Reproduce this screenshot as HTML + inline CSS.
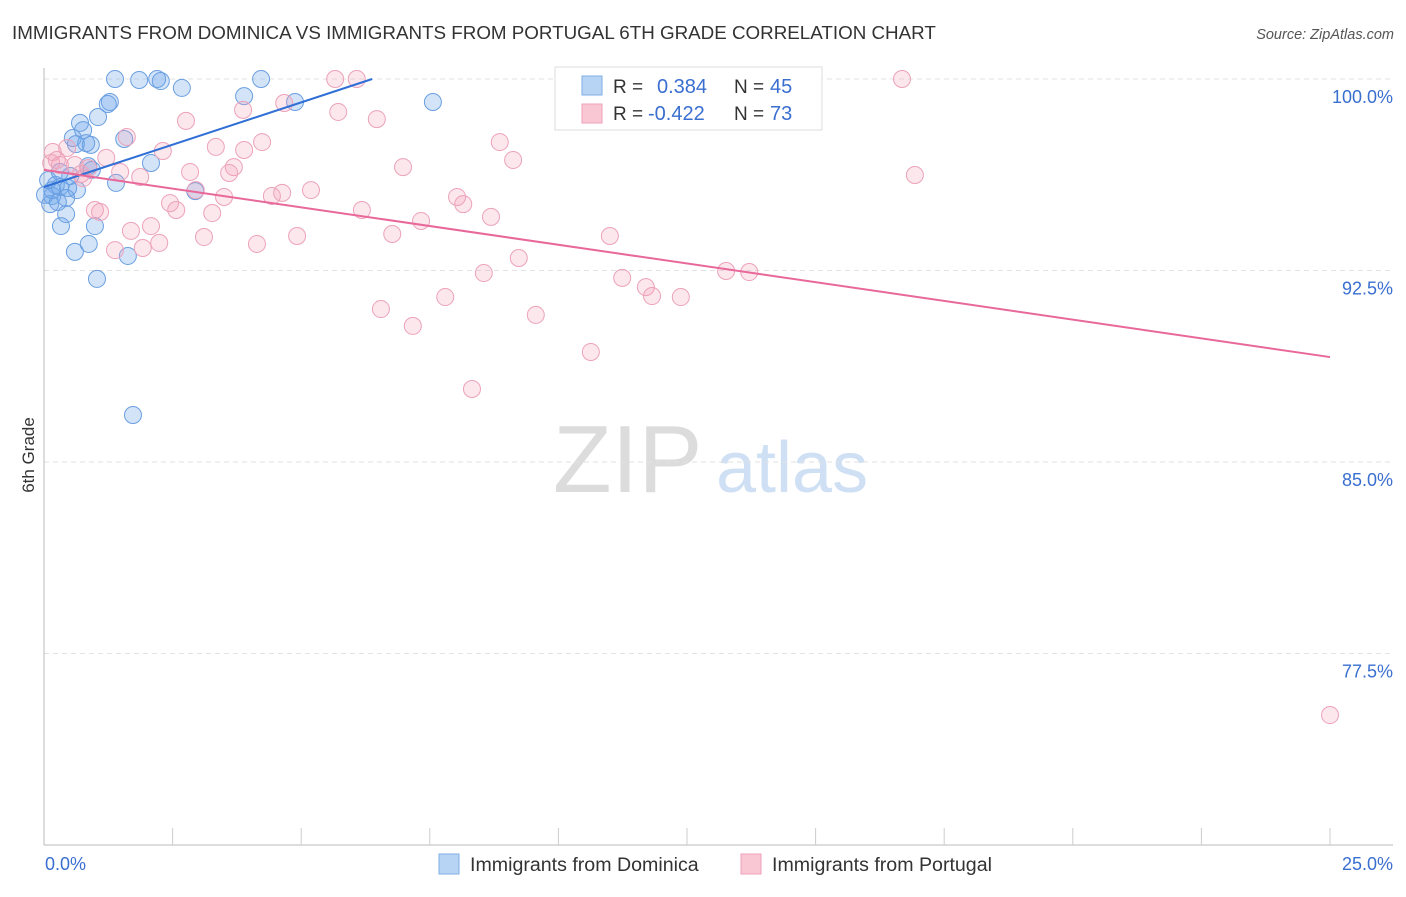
<!DOCTYPE html>
<html><head><meta charset="utf-8"><style>
body{margin:0;background:#fff;font-family:"Liberation Sans",sans-serif}
svg text{font-family:"Liberation Sans",sans-serif}
</style></head><body>
<svg id="c" width="1406" height="892" xmlns="http://www.w3.org/2000/svg">
<text x="12" y="39" font-size="18.8" fill="#333">IMMIGRANTS FROM DOMINICA VS IMMIGRANTS FROM PORTUGAL 6TH GRADE CORRELATION CHART</text>
<text x="1394" y="39" font-size="14.5" fill="#555" font-style="italic" text-anchor="end">Source: ZipAtlas.com</text>
<text x="34" y="455" font-size="17" fill="#333" transform="rotate(-90 34 455)" text-anchor="middle">6th Grade</text>
<g>
<text x="553" y="492" font-size="96" font-family="Liberation Serif,serif" fill="#dcdcdc">ZIP</text>
<text x="716" y="492" font-size="72" fill="#cfe0f4">atlas</text>
</g>
<g id="grid"></g><g id="axes"></g><g id="pts"></g><g id="lines"></g>
<g>
<rect x="555" y="67" width="267" height="63" fill="#fff" stroke="#ddd"/>
<rect x="582" y="76" width="20" height="19" fill="#b8d4f4" stroke="#7eaee6"/>
<rect x="582" y="104" width="20" height="19" fill="#f9c6d4" stroke="#eea0b8"/>
<text x="613" y="93" font-size="19" fill="#333">R = </text>
<text x="657" y="93" font-size="20" fill="#3a6fd0">0.384</text>
<text x="734" y="93" font-size="19" fill="#333">N = </text>
<text x="770" y="93" font-size="20" fill="#3a6fd0">45</text>
<text x="613" y="120" font-size="19" fill="#333">R = </text>
<text x="648" y="120" font-size="20" fill="#3a6fd0">-0.422</text>
<text x="734" y="120" font-size="19" fill="#333">N = </text>
<text x="770" y="120" font-size="20" fill="#3a6fd0">73</text>
</g>
<g>
<rect x="439" y="854" width="20" height="20" fill="#b8d4f4" stroke="#7eaee6"/>
<text x="470" y="871" font-size="19.6" fill="#333">Immigrants from Dominica</text>
<rect x="741" y="854" width="20" height="20" fill="#f9c6d4" stroke="#eea0b8"/>
<text x="772" y="871" font-size="19.6" fill="#333">Immigrants from Portugal</text>
</g>
</svg>
<script>
const yTicks=[100,92.5,85,77.5];
const yTickLabels=["100.0%","92.5%","85.0%","77.5%"];
const xTickLabels=["0.0%","25.0%"];
const domX=[1.38,1.85,2.20,2.27,4.22,2.68,1.28,1.24,3.89,4.88,7.56,1.05,0.70,0.76,1.56,0.56,0.62,0.82,0.91,2.08,0.86,0.93,0.51,0.08,0.23,0.31,1.40,2.94,0.64,0.02,0.16,0.43,0.12,0.27,0.43,0.33,0.99,0.87,0.60,1.63,1.03,1.73,0.31,0.16,0.47];
const domY=[100,99.96,100,99.92,100,99.65,99.10,99.02,99.33,99.10,99.10,98.51,98.28,98.00,97.65,97.69,97.45,97.49,97.42,96.71,96.59,96.44,96.20,96.04,95.85,95.77,95.93,95.61,95.65,95.46,95.42,95.34,95.10,95.18,94.71,94.24,94.24,93.54,93.23,93.07,92.17,86.84,96.36,95.65,95.73];
const porX=[5.66,6.08,14.02,16.68,3.87,5.72,4.67,6.47,2.76,1.61,4.24,3.34,3.89,8.86,2.31,0.17,0.45,1.21,0.14,0.31,0.86,1.48,0.72,1.87,2.84,3.69,3.60,6.98,9.12,16.93,2.95,3.50,4.63,4.43,5.19,8.03,8.15,2.45,2.57,0.99,1.09,3.27,6.18,7.33,8.69,2.08,1.69,4.92,6.77,3.11,4.14,2.24,1.92,1.38,11.00,9.23,8.55,13.26,13.71,11.24,11.70,11.82,12.38,7.80,6.55,7.17,9.56,10.63,8.32,25.0,0.25,0.60,0.76];
const porY=[100,100,100,100,98.79,98.71,99.06,98.43,98.36,97.73,97.53,97.34,97.22,97.53,97.18,97.14,97.30,96.91,96.71,96.63,96.51,96.36,96.28,96.16,96.36,96.55,96.32,96.55,96.83,96.24,95.65,95.38,95.54,95.42,95.65,95.38,95.10,95.14,94.87,94.87,94.79,94.75,94.87,94.44,94.60,94.24,94.05,93.85,93.93,93.81,93.54,93.58,93.38,93.30,93.85,92.99,92.40,92.48,92.44,92.21,91.85,91.50,91.46,91.46,90.99,90.33,90.76,89.31,87.86,75.09,96.83,96.63,96.12];
const domTrendX=[0,6.38], domTrendY=[95.77,100];
const porTrendX=[0,25], porTrendY=[96.44,89.11];
const X=v=>44+v/25*1286, Y=v=>79+(100-v)/7.5*191.5;
const NS="http://www.w3.org/2000/svg";
function mk(t,a,p){const e=document.createElementNS(NS,t);for(const k in a)e.setAttribute(k,a[k]);document.getElementById(p).appendChild(e);return e;}
yTicks.forEach((t,i)=>{
 const l=mk('line',{x1:44,x2:1393,y1:Y(t),y2:Y(t),stroke:'#e2e2e2','stroke-dasharray':'5,4'},'grid');
 
 
 const tx=mk('text',{x:1393,y:Y(t)+24,'font-size':18,fill:'#3a6fd0','text-anchor':'end'},'axes');
 tx.textContent=yTickLabels[i];
 
 
});
let a=mk('line',{x1:44,x2:44,y1:68,y2:845,stroke:'#bbb'},'axes');


a=mk('line',{x1:44,x2:1393,y1:845,y2:845,stroke:'#bbb'},'axes');


for(let k=1;k<=10;k++){const t=mk('line',{x1:X(k*2.5),x2:X(k*2.5),y1:828,y2:845,stroke:'#ccc'},'axes');
 
 }
[[0,'start',45],[25,'end',1393]].forEach((d,i)=>{const t=mk('text',{x:d[2],y:870,'font-size':18,fill:'#3a6fd0','text-anchor':d[1]},'axes');t.textContent=xTickLabels[i];
 
 });
domX.forEach((v,i)=>{const c=mk('circle',{cx:X(v),cy:Y(domY[i]),r:8.5,fill:'rgba(110,165,235,0.3)',stroke:'#6a9fe0','stroke-width':1},'pts');
 
 });
porX.forEach((v,i)=>{const c=mk('circle',{cx:X(v),cy:Y(porY[i]),r:8.5,fill:'rgba(245,160,185,0.25)',stroke:'#eca2ba','stroke-width':1},'pts');
 
 });
let tl=mk('line',{x1:X(domTrendX[0]),y1:Y(domTrendY[0]),x2:X(domTrendX[1]),y2:Y(domTrendY[1]),stroke:'#2f6fd6','stroke-width':2},'lines');


tl=mk('line',{x1:X(porTrendX[0]),y1:Y(porTrendY[0]),x2:X(porTrendX[1]),y2:Y(porTrendY[1]),stroke:'#e8689a','stroke-width':2},'lines');


</script>
</body></html>
